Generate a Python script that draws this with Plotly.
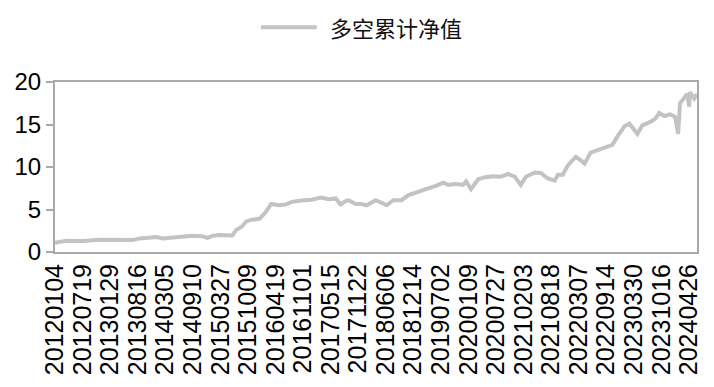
import plotly.graph_objects as go

# trading-day index since 2012-01-04 and cumulative long-short net value
day_index = [0, 8, 55, 131, 211, 259, 305, 366, 400, 479, 507, 554, 601, 648, 695, 719,
             742, 775, 836, 855, 882, 902, 929, 963, 976, 996, 1019, 1057, 1089, 1117,
             1164, 1211, 1253, 1292, 1324, 1347, 1376, 1386, 1418, 1446, 1470, 1512, 1540,
             1564, 1596, 1634, 1667, 1714, 1761, 1799, 1831, 1855, 1888, 1925, 1939, 1962,
             1996, 2029, 2066, 2103, 2137, 2169, 2197, 2221, 2263, 2291, 2325, 2357, 2372,
             2395, 2419, 2456, 2479, 2498, 2526, 2573, 2606, 2629, 2653, 2686, 2709, 2723,
             2747, 2770, 2808, 2832, 2850, 2874, 2901, 2925, 2939, 2948, 2968, 2982, 2991,
             2995, 3015, 3028]
net_value = [1.0, 1.13, 1.32, 1.3, 1.44, 1.44, 1.4, 1.4, 1.6, 1.75, 1.6, 1.7, 1.8, 1.9,
             1.85, 1.65, 1.9, 2.0, 1.95, 2.6, 3.0, 3.6, 3.8, 3.9, 4.2, 4.75, 5.65, 5.5, 5.6,
             5.9, 6.05, 6.15, 6.4, 6.2, 6.3, 5.6, 6.05, 6.05, 5.65, 5.65, 5.5, 6.1, 5.8, 5.5,
             6.1, 6.1, 6.7, 7.1, 7.4, 7.8, 8.15, 7.9, 8.0, 7.9, 8.3, 7.4, 8.55, 8.8, 8.9,
             8.85, 9.2, 8.85, 7.9, 8.85, 9.35, 9.3, 8.65, 8.4, 9.1, 9.1, 10.2, 11.2, 10.8,
             10.4, 11.7, 12.1, 12.45, 12.6, 13.6, 14.8, 15.1, 14.7, 13.9, 14.9, 15.3, 15.7,
             16.35, 16.0, 16.2, 15.9, 13.9, 17.5, 18.05, 18.6, 17.1, 18.8, 18.05, 18.6]

tick_labels = ["20120104", "20120719", "20130129", "20130816", "20140305", "20140910",
               "20150327", "20151009", "20160419", "20161101", "20170515", "20171122",
               "20180606", "20181214", "20190702", "20200109", "20200727", "20210203",
               "20210818", "20220307", "20220914", "20230330", "20231016", "20240426"]
tick_index = [0, 130, 260, 390, 520, 650, 780, 910, 1040, 1170, 1300, 1430, 1560, 1690,
              1820, 1950, 2080, 2210, 2340, 2470, 2600, 2730, 2860, 2990]
y_ticks = [0, 5, 10, 15, 20]
series_name = "多空累计净值"

line_color = "#c3c3c3"
axis_color = "#a9a9a9"

fig = go.Figure()
fig.add_trace(go.Scatter(
    x=day_index, y=net_value, mode="lines", name=series_name,
    line=dict(color=line_color, width=4), showlegend=False,
))

# legend drawn as a long line sample plus text (top centre)
fig.add_shape(type="line", xref="paper", yref="paper",
              x0=(262 - 55) / 645, x1=(318 - 55) / 645,
              y0=(253 - 27) / 171, y1=(253 - 27) / 171,
              line=dict(color=line_color, width=4))
fig.add_annotation(text=series_name, xref="paper", yref="paper",
                   x=(329 - 55) / 645, y=(253 - 27) / 171,
                   xanchor="left", yanchor="middle", showarrow=False,
                   font=dict(family="Noto Sans CJK SC", size=22, color="#111111"))

fig.update_layout(
    width=714, height=387,
    margin=dict(l=55, r=14, t=82, b=134),
    paper_bgcolor="white", plot_bgcolor="white",
    showlegend=False,
    xaxis=dict(
        range=[0, 3028], tickmode="array", tickvals=tick_index, ticktext=tick_labels,
        tickangle=-90, showgrid=False, zeroline=False,
        showline=True, linecolor=axis_color, linewidth=2, mirror=True,
        ticks="", tickfont=dict(family="Liberation Sans", size=25, color="#000000"),
    ),
    yaxis=dict(
        range=[0, 20], tickmode="array", tickvals=y_ticks,
        showgrid=False, zeroline=False,
        showline=True, linecolor=axis_color, linewidth=2, mirror=True,
        ticks="outside", ticklen=7, tickwidth=2, tickcolor=axis_color,
        tickfont=dict(family="Liberation Sans", size=24, color="#000000"),
    ),
)

fig.write_html("out.html")
